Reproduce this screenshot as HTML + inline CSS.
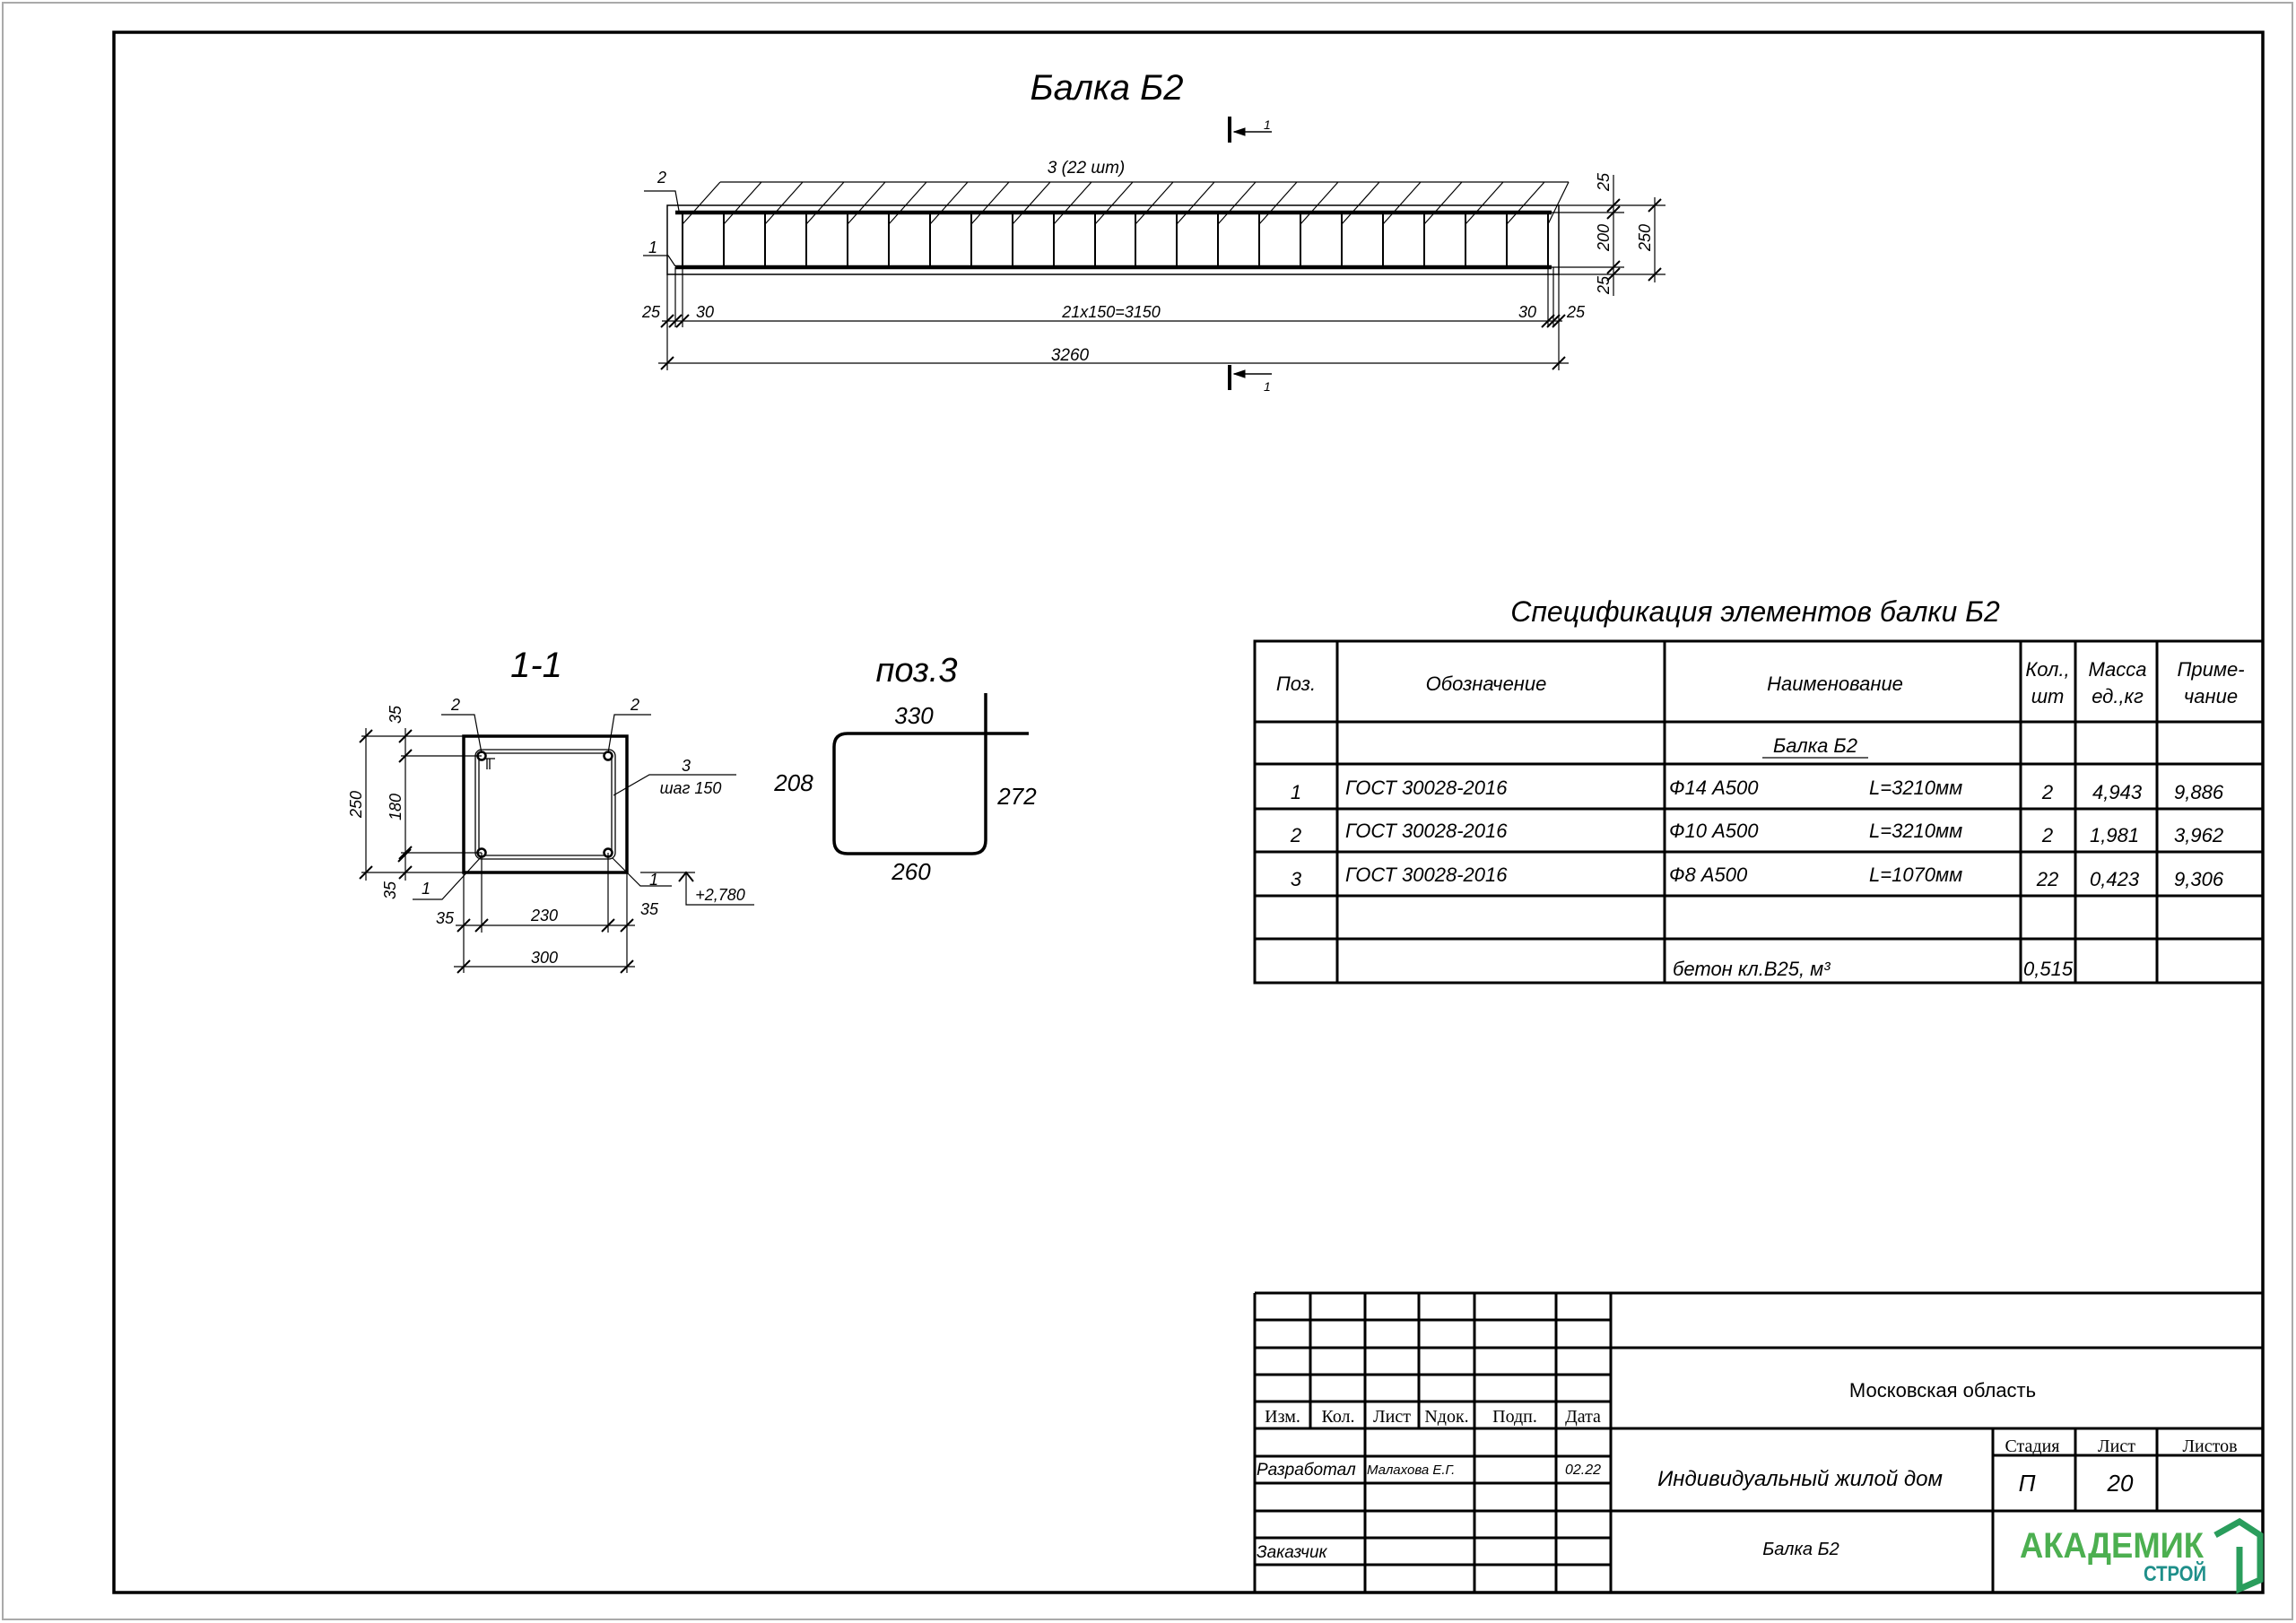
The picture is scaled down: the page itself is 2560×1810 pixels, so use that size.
<!DOCTYPE html>
<html><head><meta charset="utf-8"><style>
html,body{margin:0;padding:0;background:#fff;}
svg{display:block;}
text{font-family:"Liberation Sans","DejaVu Sans",sans-serif;font-style:italic;fill:#000;}
.s{font-family:"Liberation Serif",serif;font-style:normal;}
</style></head><body>
<svg width="2560" height="1810" viewBox="0 0 2560 1810" xmlns="http://www.w3.org/2000/svg">
<rect x="3" y="3" width="2553" height="1803" fill="none" stroke="#aaa" stroke-width="2"/>
<rect x="127" y="36" width="2396" height="1740" fill="none" stroke="#000" stroke-width="3.5"/>

<g stroke="#000" fill="none">
<!-- Beam elevation -->
<rect x="744" y="229" width="994" height="77" stroke-width="1.5"/>
<path d="M753 237H1730M753 298H1730" stroke-width="4.5"/>
<path stroke-width="2" d="M761 237V298M807 237V298M853 237V298M899 237V298M945 237V298M991 237V298M1037 237V298M1083 237V298M1129 237V298M1175 237V298M1221 237V298M1266 237V298M1312 237V298M1358 237V298M1404 237V298M1450 237V298M1496 237V298M1542 237V298M1588 237V298M1634 237V298M1680 237V298M1726 237V298"/>
<path stroke-width="1.2" d="M803 203H1749M761 250L803 203M807 250L849 203M853 250L895 203M899 250L941 203M945 250L987 203M991 250L1033 203M1037 250L1079 203M1083 250L1125 203M1129 250L1171 203M1175 250L1217 203M1221 250L1263 203M1266 250L1308 203M1312 250L1354 203M1358 250L1400 203M1404 250L1446 203M1450 250L1492 203M1496 250L1538 203M1542 250L1584 203M1588 250L1630 203M1634 250L1676 203M1680 250L1722 203M1726 250L1749 203"/>
<path stroke-width="1.2" d="M718 213H753L757 235M717 285H745L753 297"/>
<!-- section marks -->
<path d="M1371 130V159M1371 407V435" stroke-width="4"/>
<path d="M1376 147H1418M1376 417H1418" stroke-width="1.5"/>
<path d="M1376 147l12 -4v8zM1376 417l12 -4v8z" fill="#000"/>
<!-- right dims -->
<path stroke-width="1.2" d="M1738 229H1857M1738 306H1857M1730 237H1811M1730 298H1811M1799 195V330M1845 220V315"/>
<path stroke-width="2" d="M1792 236l14 -14M1792 244l14 -14M1792 305l14 -14M1792 313l14 -14M1838 236l14 -14M1838 313l14 -14"/>
<!-- bottom dims -->
<path stroke-width="1.2" d="M744 306V413M1738 306V413M753 298V365M761 298V365M1726 298V365M1732 298V365M738 358H1742M734 405H1749"/>
<path stroke-width="2" d="M737 365l14 -14M746 365l14 -14M754 365l14 -14M1719 365l14 -14M1725 365l14 -14M1731 365l14 -14M737 412l14 -14M1731 412l14 -14"/>

<!-- Section 1-1 -->
<rect x="517" y="821" width="182" height="152" stroke-width="3.5"/>
<rect x="530" y="836" width="156" height="122" rx="7" stroke-width="1.3"/>
<rect x="534" y="840" width="148" height="114" rx="5" stroke-width="1.3"/>
<path stroke-width="1.3" d="M540 846h12M543 846v12M546 846v12"/>
<g stroke-width="2.5" fill="#fff"><circle cx="537" cy="843" r="4.5"/><circle cx="678" cy="843" r="4.5"/><circle cx="537" cy="951" r="4.5"/><circle cx="678" cy="951" r="4.5"/></g>
<path stroke-width="1.2" d="M492 797H529L537 840M726 797H685L678 840M821 864H724L684 887M460 1003H493L537 955M749 988H714L683 957"/>
<path stroke-width="1.2" d="M714 973H775M765 973V1009H841"/>
<path stroke-width="2" d="M757 983L765 973L773 983"/>
<!-- left dims -->
<path stroke-width="1.2" d="M403 821H517M403 973H517M447 843H537M447 951H537M408 812V982M452 812V982"/>
<path stroke-width="2" d="M401 828l14 -14M401 980l14 -14M445 828l14 -14M445 850l14 -14M445 958l14 -14M445 980l14 -14M444 961l14 -14"/>
<!-- bottom dims -->
<path stroke-width="1.2" d="M517 973V1085M699 973V1085M537 951V1040M678 951V1040M508 1032H708M506 1078H708"/>
<path stroke-width="2" d="M510 1039l14 -14M530 1039l14 -14M671 1039l14 -14M692 1039l14 -14M510 1085l14 -14M692 1085l14 -14"/>

<!-- поз.3 -->
<path stroke-width="3.5" d="M945 818H1147M1099 773V937Q1099 952 1084 952H945Q930 952 930 937V833Q930 818 945 818"/>

<!-- Spec table -->
<g stroke-width="3">
<rect x="1399" y="715" width="1124" height="381"/>
<path d="M1399 805H2523M1399 852H2523M1399 902H2523M1399 950H2523M1399 999H2523M1399 1047H2523M1491 715V1096M1856 715V1096M2253 715V1096M2314 715V1096M2405 715V1096"/>
</g>
<path stroke-width="1.2" d="M1965 845H2083"/>

<!-- Title block -->
<g stroke-width="3">
<path d="M1399 1442H2523M1399 1442V1776M1796 1442V1776M1796 1503H2523M1399 1593H2523M2222 1593V1776M2314 1593V1685M2405 1593V1685M2222 1623H2523M1796 1685H2523"/>
<path d="M1399 1472H1796M1399 1503H1796M1399 1533H1796M1399 1563H1796M1399 1624H1796M1399 1654H1796M1399 1685H1796M1399 1715H1796M1399 1745H1796"/>
<path d="M1461 1442V1593M1522 1442V1776M1582 1442V1593M1644 1442V1776M1735 1442V1776"/>
</g>
<!-- logo shape -->
<path d="M2470 1712L2497 1697L2520 1712V1762L2497 1772V1725" stroke="#2a9d5c" stroke-width="7" fill="none"/>
</g>

<!-- TEXT -->
<text x="1234" y="111" font-size="40" text-anchor="middle">Балка Б2</text>
<text x="1211" y="193" font-size="19" text-anchor="middle">3 (22 шт)</text>
<text x="738" y="204" font-size="18" text-anchor="middle">2</text>
<text x="728" y="282" font-size="18" text-anchor="middle">1</text>
<text x="1409" y="144" font-size="14">1</text>
<text x="1409" y="436" font-size="14">1</text>
<text x="726" y="354" font-size="18" text-anchor="middle">25</text>
<text x="786" y="354" font-size="18" text-anchor="middle">30</text>
<text x="1239" y="354" font-size="18" text-anchor="middle">21x150=3150</text>
<text x="1703" y="354" font-size="18" text-anchor="middle">30</text>
<text x="1757" y="354" font-size="18" text-anchor="middle">25</text>
<text x="1193" y="402" font-size="19" text-anchor="middle">3260</text>
<text transform="translate(1794 203) rotate(-90)" font-size="18" text-anchor="middle">25</text>
<text transform="translate(1794 265) rotate(-90)" font-size="18" text-anchor="middle">200</text>
<text transform="translate(1794 318) rotate(-90)" font-size="18" text-anchor="middle">25</text>
<text transform="translate(1840 265) rotate(-90)" font-size="18" text-anchor="middle">250</text>

<text x="598" y="755" font-size="40" text-anchor="middle">1-1</text>
<text x="508" y="792" font-size="18" text-anchor="middle">2</text>
<text x="708" y="792" font-size="18" text-anchor="middle">2</text>
<text x="765" y="860" font-size="18" text-anchor="middle">3</text>
<text x="770" y="885" font-size="18" text-anchor="middle">шаг 150</text>
<text x="475" y="997" font-size="18" text-anchor="middle">1</text>
<text x="729" y="987" font-size="18" text-anchor="middle">1</text>
<text x="803" y="1004" font-size="18" text-anchor="middle">+2,780</text>
<text transform="translate(403 897) rotate(-90)" font-size="18" text-anchor="middle">250</text>
<text transform="translate(447 797) rotate(-90)" font-size="18" text-anchor="middle">35</text>
<text transform="translate(447 900) rotate(-90)" font-size="18" text-anchor="middle">180</text>
<text transform="translate(441 993) rotate(-90)" font-size="18" text-anchor="middle">35</text>
<text x="496" y="1030" font-size="18" text-anchor="middle">35</text>
<text x="607" y="1027" font-size="18" text-anchor="middle">230</text>
<text x="724" y="1020" font-size="18" text-anchor="middle">35</text>
<text x="607" y="1074" font-size="18" text-anchor="middle">300</text>

<text x="1022" y="760" font-size="38" text-anchor="middle">поз.3</text>
<text x="1019" y="807" font-size="26" text-anchor="middle">330</text>
<text x="885" y="882" font-size="26" text-anchor="middle">208</text>
<text x="1134" y="897" font-size="26" text-anchor="middle">272</text>
<text x="1016" y="981" font-size="26" text-anchor="middle">260</text>

<text x="1957" y="693" font-size="32" text-anchor="middle">Спецификация элементов балки Б2</text>
<text x="1445" y="770" font-size="22" text-anchor="middle">Поз.</text>
<text x="1657" y="770" font-size="22" text-anchor="middle">Обозначение</text>
<text x="2046" y="770" font-size="22" text-anchor="middle">Наименование</text>
<text x="2283" y="754" font-size="22" text-anchor="middle">Кол.,</text>
<text x="2283" y="784" font-size="22" text-anchor="middle">шт</text>
<text x="2361" y="754" font-size="22" text-anchor="middle">Масса</text>
<text x="2361" y="784" font-size="22" text-anchor="middle">ед.,кг</text>
<text x="2465" y="754" font-size="22" text-anchor="middle">Приме-</text>
<text x="2465" y="784" font-size="22" text-anchor="middle">чание</text>
<text x="2024" y="839" font-size="22" text-anchor="middle">Балка Б2</text>
<g font-size="22">
<text x="1445" y="891" text-anchor="middle">1</text><text x="1500" y="886">ГОСТ 30028-2016</text><text x="1861" y="886">Ф14 А500</text><text x="2084" y="886">L=3210мм</text><text x="2283" y="891" text-anchor="middle">2</text><text x="2333" y="891">4,943</text><text x="2424" y="891">9,886</text>
<text x="1445" y="939" text-anchor="middle">2</text><text x="1500" y="934">ГОСТ 30028-2016</text><text x="1861" y="934">Ф10 А500</text><text x="2084" y="934">L=3210мм</text><text x="2283" y="939" text-anchor="middle">2</text><text x="2330" y="939">1,981</text><text x="2424" y="939">3,962</text>
<text x="1445" y="988" text-anchor="middle">3</text><text x="1500" y="983">ГОСТ 30028-2016</text><text x="1861" y="983">Ф8 А500</text><text x="2084" y="983">L=1070мм</text><text x="2283" y="988" text-anchor="middle">22</text><text x="2330" y="988">0,423</text><text x="2424" y="988">9,306</text>
<text x="1865" y="1088">бетон кл.В25, м³</text><text x="2256" y="1088">0,515</text>
</g>

<g class="s" font-size="20" text-anchor="middle">
<text class="s" x="1430" y="1586">Изм.</text><text class="s" x="1492" y="1586">Кол.</text><text class="s" x="1552" y="1586">Лист</text><text class="s" x="1613" y="1586">Nдок.</text><text class="s" x="1689" y="1586">Подп.</text><text class="s" x="1765" y="1586">Дата</text>
<text class="s" x="2266" y="1619">Стадия</text><text class="s" x="2360" y="1619">Лист</text><text class="s" x="2464" y="1619">Листов</text>
</g>
<text x="1401" y="1645" font-size="19">Разработал</text>
<text x="1524" y="1644" font-size="15">Малахова Е.Г.</text>
<text x="1765" y="1644" font-size="16" text-anchor="middle">02.22</text>
<text x="1401" y="1737" font-size="19">Заказчик</text>
<text x="2166" y="1558" font-size="22" text-anchor="middle" style="font-style:normal">Московская область</text>
<text x="2007" y="1657" font-size="24" text-anchor="middle">Индивидуальный жилой дом</text>
<text x="2008" y="1734" font-size="20" text-anchor="middle">Балка Б2</text>
<text x="2260" y="1663" font-size="26" text-anchor="middle">П</text>
<text x="2364" y="1663" font-size="26" text-anchor="middle">20</text>
<text x="2252" y="1737" font-size="40" font-weight="bold" style="font-style:normal;fill:#4caf50" textLength="205" lengthAdjust="spacingAndGlyphs">АКАДЕМИК</text>
<text x="2390" y="1763" font-size="24" font-weight="bold" style="font-style:normal;fill:#1f8f8a" textLength="70" lengthAdjust="spacingAndGlyphs">СТРОЙ</text>
</svg>
</body></html>
